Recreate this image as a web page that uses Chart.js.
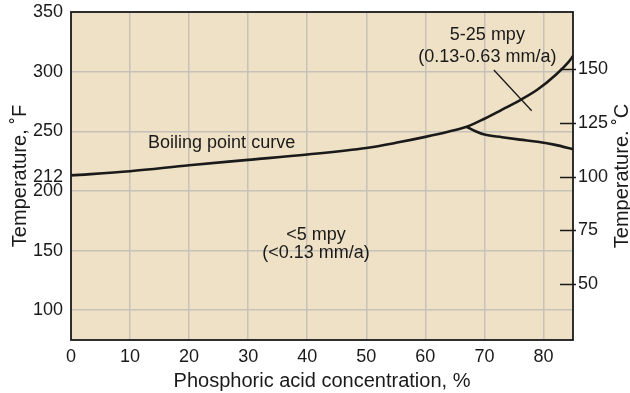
<!DOCTYPE html>
<html>
<head>
<meta charset="utf-8">
<script src="https://cdn.jsdelivr.net/npm/chart.js@4.4.1/dist/chart.umd.min.js"></script>
<style>
  html, body { margin: 0; padding: 0; background: #ffffff; }
  #wrap { width: 630px; height: 393px; }
</style>
</head>
<body>
<div id="wrap"><canvas id="chart" width="630" height="393"></canvas></div>
<script>
// Tick positions
const concTicks = [0, 10, 20, 30, 40, 50, 60, 70, 80];
const tempFTicks = [100, 150, 200, 212, 250, 300, 350];
const tempCTicks = [50, 75, 100, 125, 150];

// Boiling point curve (concentration %, temperature °F)
const boilingConc  = [0, 10, 20, 30, 40, 50, 55, 60, 64, 67, 70, 73, 76, 79, 82, 84.3, 85];
const boilingTempF = [213, 216.5, 221.5, 226, 230.5, 236, 240.3, 245.3, 249.8, 253.8, 260.5, 268.2, 276, 285, 297, 308.4, 313];

// Lower boundary of the 5-25 mpy region
const branchConc  = [67, 68.5, 70, 73, 76, 79, 82, 85];
const branchTempF = [253.8, 250, 247.2, 245, 243, 241.2, 238.6, 235];

// Leader line for the 5-25 mpy label
const leaderConc  = [71.6, 78];
const leaderTempF = [301.4, 267.2];

// Text labels placed on the plot (in data units)
const noteTexts = ['Boiling point curve', '5-25 mpy', '(0.13-0.63 mm/a)', '<5 mpy', '(<0.13 mm/a)'];
const noteConc  = [25.5, 70.5, 70.5, 41.5, 41.5];
const noteTempF = [240, 330.8, 312.3, 162.9, 147.8];

const FONT = '"Liberation Sans", Arial, Helvetica, sans-serif';
const INK = '#1a1a1a';
const GRID = '#c6c2b9';
const PAPER = '#efe1c5';

const toPts = (xs, ys) => xs.map((x, i) => ({ x: x, y: ys[i] }));
const fToC = f => (f - 32) / 1.8;

const backdrop = {
  id: 'backdrop',
  beforeDraw(chart) {
    const { ctx, chartArea: a } = chart;
    ctx.save();
    ctx.fillStyle = PAPER;
    ctx.fillRect(a.left, a.top, a.right - a.left, a.bottom - a.top);
    ctx.restore();
  }
};

const frame = {
  id: 'frame',
  afterDraw(chart) {
    const { ctx, chartArea: a, scales } = chart;
    ctx.save();
    // plot frame
    ctx.strokeStyle = INK;
    ctx.lineWidth = 1.8;
    ctx.strokeRect(a.left, a.top, a.right - a.left, a.bottom - a.top);

    // right-axis tick marks crossing the frame
    ctx.lineWidth = 1.5;
    ctx.beginPath();
    scales.yC.ticks.forEach(t => {
      const y = Math.round(scales.yC.getPixelForValue(t.value)) + 0.5;
      ctx.moveTo(a.right - 13, y);
      ctx.lineTo(a.right + 3, y);
    });
    ctx.stroke();

    // notes
    ctx.fillStyle = INK;
    ctx.font = '18px ' + FONT;
    ctx.textAlign = 'center';
    ctx.textBaseline = 'middle';
    noteTexts.forEach((t, i) => {
      ctx.fillText(t, scales.x.getPixelForValue(noteConc[i]), scales.yF.getPixelForValue(noteTempF[i]));
    });

    // right axis title, reading upward
    ctx.font = '20px ' + FONT;
    ctx.translate(622, (a.top + a.bottom) / 2);
    ctx.rotate(-Math.PI / 2);
    ctx.fillText('Temperature. \u02DAC', 0, 0);
    ctx.restore();
  }
};

const lineStyle = {
  borderColor: INK,
  pointRadius: 0,
  fill: false,
  yAxisID: 'yF'
};

// fixed scale boxes so the plot area sits at 71..573 x 12..340
const fixBox = size => s => {
  if (s.isHorizontal()) { s.height = size; s.paddingLeft = 0; s.paddingRight = 0; }
  else { s.width = size; s.paddingTop = 0; s.paddingBottom = 0; }
};

new Chart(document.getElementById('chart').getContext('2d'), {
  type: 'line',
  data: {
    datasets: [
      Object.assign({}, lineStyle, {
        data: toPts(boilingConc, boilingTempF),
        borderWidth: 2.6,
        cubicInterpolationMode: 'monotone'
      }),
      Object.assign({}, lineStyle, {
        data: toPts(branchConc, branchTempF),
        borderWidth: 2.6,
        cubicInterpolationMode: 'monotone'
      }),
      Object.assign({}, lineStyle, {
        data: toPts(leaderConc, leaderTempF),
        borderWidth: 1.3,
        tension: 0
      })
    ]
  },
  options: {
    responsive: false,
    animation: false,
    devicePixelRatio: 1,
    layout: { padding: { top: 12, left: 0, right: 0, bottom: 0 } },
    plugins: { legend: { display: false }, tooltip: { enabled: false } },
    scales: {
      x: {
        type: 'linear',
        min: 0,
        max: 85,
        afterBuildTicks: s => { s.ticks = concTicks.map(v => ({ value: v })); },
        afterFit: fixBox(53),
        grid: {
          color: c => (c.tick && c.tick.value === 0) ? 'rgba(0,0,0,0)' : GRID,
          lineWidth: 1.5,
          drawTicks: false
        },
        border: { display: false },
        ticks: { font: { family: FONT, size: 18 }, color: INK, padding: 6, maxRotation: 0, autoSkip: false },
        title: {
          display: true,
          text: 'Phosphoric acid concentration, %',
          font: { family: FONT, size: 20 },
          color: INK,
          padding: { top: 0, bottom: 0 }
        }
      },
      yF: {
        type: 'linear',
        position: 'left',
        min: 75,
        max: 350,
        afterBuildTicks: s => { s.ticks = tempFTicks.map(v => ({ value: v })); },
        afterFit: fixBox(71),
        grid: {
          color: c => (c.tick && (c.tick.value === 212 || c.tick.value === 350)) ? 'rgba(0,0,0,0)' : GRID,
          lineWidth: 1.5,
          drawTicks: false
        },
        border: { display: false },
        ticks: { font: { family: FONT, size: 18 }, color: INK, padding: 8, autoSkip: false },
        title: {
          display: true,
          text: 'Temperature, \u02DAF',
          font: { family: FONT, size: 20 },
          color: INK,
          padding: { top: 8.5, bottom: 0 }
        }
      },
      yC: {
        type: 'linear',
        position: 'right',
        min: fToC(75),
        max: fToC(350),
        afterBuildTicks: s => { s.ticks = tempCTicks.map(v => ({ value: v })); },
        afterFit: fixBox(57),
        grid: { drawOnChartArea: false, drawTicks: false },
        border: { display: false },
        ticks: { font: { family: FONT, size: 18 }, color: INK, padding: 5, autoSkip: false }
      }
    }
  },
  plugins: [backdrop, frame]
});
</script>
</body>
</html>
